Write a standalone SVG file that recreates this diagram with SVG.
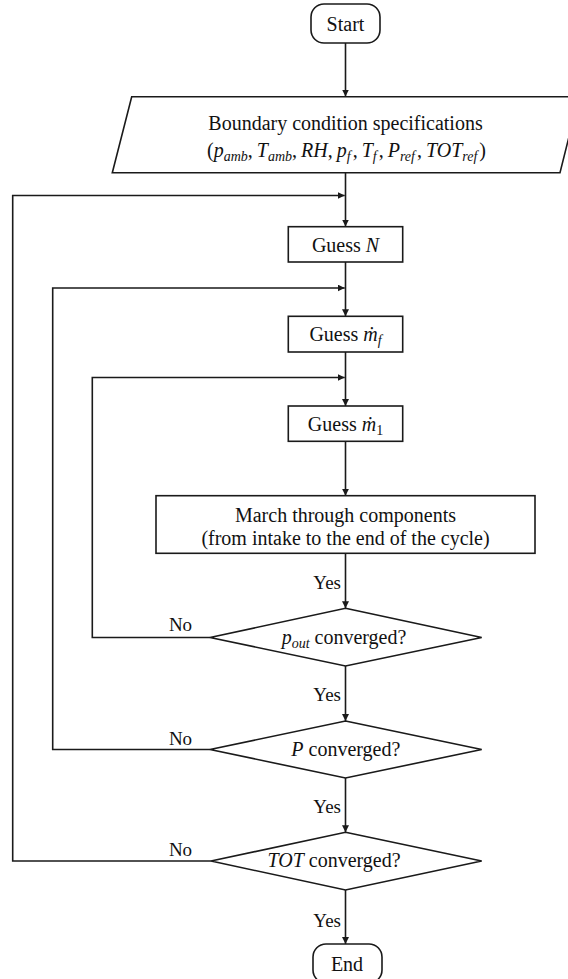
<svg xmlns="http://www.w3.org/2000/svg" width="568" height="979" viewBox="0 0 568 979">
  <style>
    .shape { fill: #ffffff; stroke: #1a1a1a; stroke-width: 1.6; }
    .wire { fill: none; stroke: #1a1a1a; stroke-width: 1.6; }
    text { font-family: "Liberation Serif", "DejaVu Serif", serif; font-size: 20px; fill: #111111; }
    .c { text-anchor: middle; }
    .lbl { font-size: 19px; }
    .v { font-style: italic; }
    .sub { font-size: 14px; }
  </style>
  <defs>
    <marker id="arrow" viewBox="0 0 10 10" refX="10" refY="5" markerWidth="7" markerHeight="7" markerUnits="userSpaceOnUse" orient="auto">
      <path d="M0,0 L10,5 L0,10 z" fill="#1a1a1a"/>
    </marker>
  </defs>
  <rect width="568" height="979" fill="#ffffff"/>

  <!-- connectors -->
  <g id="connectors">
    <path class="wire" d="M345.5,43 V96.5" marker-end="url(#arrow)"/>
    <path class="wire" d="M345.5,172.7 V226.5" marker-end="url(#arrow)"/>
    <path class="wire" d="M345.5,262 V316.3" marker-end="url(#arrow)"/>
    <path class="wire" d="M345.5,352 V406" marker-end="url(#arrow)"/>
    <path class="wire" d="M345.5,441.3 V495.7" marker-end="url(#arrow)"/>
    <path class="wire" d="M345.5,553.3 V608.3" marker-end="url(#arrow)"/>
    <path class="wire" d="M345.5,666 V721" marker-end="url(#arrow)"/>
    <path class="wire" d="M345.5,778 V832.3" marker-end="url(#arrow)"/>
    <path class="wire" d="M345.5,890 V944" marker-end="url(#arrow)"/>
    <!-- feedback loops -->
    <path class="wire" d="M210,637.5 H92.3 V377.5 H344.7" marker-end="url(#arrow)"/>
    <path class="wire" d="M210,749.5 H52.7 V288 H344.7" marker-end="url(#arrow)"/>
    <path class="wire" d="M211,861 H12.7 V195.5 H344.7" marker-end="url(#arrow)"/>
    <text class="lbl" x="341" y="589.3" text-anchor="end">Yes</text>
    <text class="lbl" x="341" y="701" text-anchor="end">Yes</text>
    <text class="lbl" x="341" y="812.7" text-anchor="end">Yes</text>
    <text class="lbl" x="341" y="926.7" text-anchor="end">Yes</text>
    <text class="lbl c" x="180.5" y="631">No</text>
    <text class="lbl c" x="180.5" y="745">No</text>
    <text class="lbl c" x="180.5" y="856">No</text>
  </g>

  <g id="start">
    <rect class="shape" x="311" y="4" width="69" height="39" rx="13"/>
    <text class="c" x="345.5" y="31">Start</text>
  </g>

  <g id="boundary">
    <path class="shape" d="M131.7,96.7 L579,96.7 L560,172.7 L112.3,172.7 z"/>
    <text class="c" x="345.5" y="130">Boundary condition specifications</text>
    <text class="c" x="346.5" y="156.5">(<tspan class="v">p</tspan><tspan class="v sub" dy="4">amb</tspan><tspan dy="-4">,</tspan><tspan class="v" dx="4">T</tspan><tspan class="v sub" dy="4">amb</tspan><tspan dy="-4">,</tspan><tspan class="v" dx="4">RH</tspan>,<tspan class="v" dx="4">p</tspan><tspan class="v sub" dy="4">f</tspan><tspan dy="-4" dx="2">,</tspan><tspan class="v" dx="4">T</tspan><tspan class="v sub" dy="4">f</tspan><tspan dy="-4" dx="2">,</tspan><tspan class="v" dx="4">P</tspan><tspan class="v sub" dy="4">ref</tspan><tspan dy="-4" dx="2">,</tspan><tspan class="v" dx="4">TOT</tspan><tspan class="v sub" dy="4">ref</tspan><tspan dy="-4" dx="2">)</tspan></text>
  </g>

  <g id="guess-n">
    <rect class="shape" x="288.3" y="226.7" width="114.4" height="35.3"/>
    <text class="c" x="345.5" y="252">Guess <tspan class="v">N</tspan></text>
  </g>

  <g id="guess-mf">
    <rect class="shape" x="288.3" y="316.3" width="114.4" height="35.7"/>
    <text class="c" x="345.5" y="341">Guess <tspan class="v">ṁ</tspan><tspan class="v sub" dy="4">f</tspan></text>
  </g>

  <g id="guess-m1">
    <rect class="shape" x="288.3" y="406" width="114.4" height="35.3"/>
    <text class="c" x="345.5" y="431">Guess <tspan class="v">ṁ</tspan><tspan class="sub" dy="4">1</tspan></text>
  </g>

  <g id="march">
    <rect class="shape" x="156" y="495.7" width="379" height="57.6"/>
    <text class="c" x="345.5" y="521.5">March through components</text>
    <text class="c" x="345.5" y="545">(from intake to the end of the cycle)</text>
  </g>

  <g id="check-pout">
    <path class="shape" d="M345.5,608.3 L481.7,637.5 L345.5,666 L210,637.5 z"/>
    <text class="c" x="344" y="643.5"><tspan class="v">p</tspan><tspan class="v sub" dy="4">out</tspan><tspan dy="-4"> converged?</tspan></text>
  </g>

  <g id="check-p">
    <path class="shape" d="M345.5,721 L481.7,749.5 L345.5,778 L210,749.5 z"/>
    <text class="c" x="345.8" y="755.5"><tspan class="v">P</tspan> converged?</text>
  </g>

  <g id="check-tot">
    <path class="shape" d="M345.5,832.3 L481.7,861 L345.5,890 L211,861 z"/>
    <text class="c" x="334" y="867"><tspan class="v">TOT</tspan> converged?</text>
  </g>

  <g id="end">
    <rect class="shape" x="313" y="944" width="69" height="39" rx="13"/>
    <text class="c" x="347" y="971">End</text>
  </g>
</svg>
